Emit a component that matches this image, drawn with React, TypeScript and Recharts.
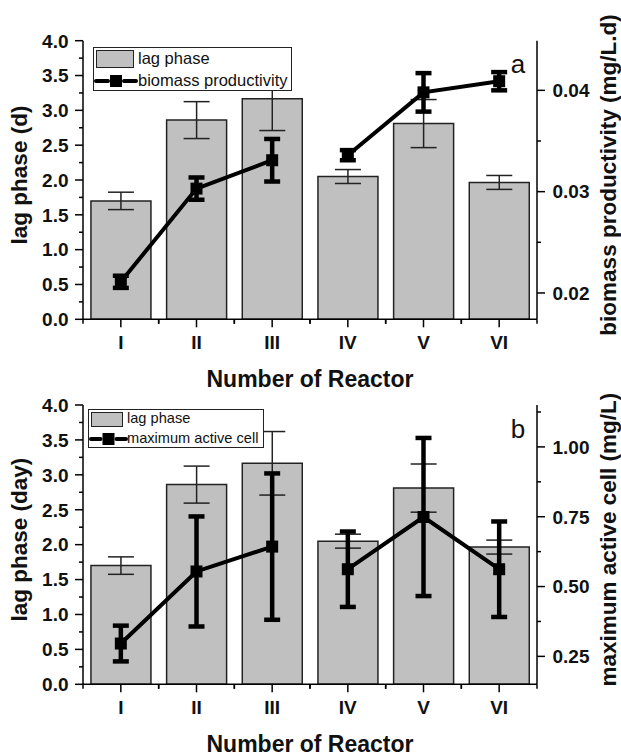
import React from "react";
import { ComposedChart, Bar, Line, XAxis, YAxis, ErrorBar, Legend } from "recharts";

const FONT = "'Liberation Sans', Arial, Helvetica, sans-serif";

// categories
const reactors = ["I", "II", "III", "IV", "V", "VI"];

// left axis: lag phase (same in both panels)
const lagPhase = [1.7, 2.86, 3.165, 2.05, 2.81, 1.965];
const lagPhaseErr = [0.125, 0.265, 0.455, 0.1, 0.345, 0.1];

// panel a, right axis
const biomassProd = [0.0211, 0.0303, 0.0331, 0.0336, 0.0398, 0.0409];
const biomassProdErr = [0.0006, 0.0011, 0.0021, 0.0005, 0.0019, 0.0009];

// panel b, right axis
const maxActiveCell = [0.296, 0.554, 0.643, 0.562, 0.749, 0.562];
const maxActiveCellErr = [0.064, 0.197, 0.262, 0.135, 0.283, 0.171];

// the line is drawn in two pieces: I-III and IV-VI
const firstGroupSize = 3;

const lagTicks = [0, 0.25, 0.5, 0.75, 1, 1.25, 1.5, 1.75, 2, 2.25, 2.5, 2.75, 3, 3.25, 3.5, 3.75, 4];
const prodTicks = [0.02, 0.025, 0.03, 0.035, 0.04];
const cellTicks = [0.25, 0.375, 0.5, 0.625, 0.75, 0.875, 1, 1.125];

function buildData(vals: number[], errs: number[]) {
  return reactors.map((name, i) => {
    const first = i < firstGroupSize;
    return {
      name,
      lag: lagPhase[i],
      lagErr: lagPhaseErr[i],
      s1: first ? vals[i] : null,
      s1Err: first ? errs[i] : null,
      s2: first ? null : vals[i],
      s2Err: first ? null : errs[i],
    };
  });
}

const dataA = buildData(biomassProd, biomassProdErr);
const dataB = buildData(maxActiveCell, maxActiveCellErr);

function isMajor(v: number, step: number) {
  const r = v / step;
  return Math.abs(r - Math.round(r)) < 1e-6;
}

const YTick = (props: any) => {
  const { x, y, payload, side, step, digits } = props;
  const major = isMajor(payload.value, step);
  const dir = side === "left" ? -1 : 1;
  const len = major ? 8 : 4;
  return (
    <g>
      <line x1={x} y1={y} x2={x + dir * len} y2={y} stroke="#000" strokeWidth={1.5} />
      {major && (
        <text
          x={x + dir * (side === "left" ? 14.5 : 15.5)}
          y={y}
          dy="0.36em"
          textAnchor={side === "left" ? "end" : "start"}
          fontFamily={FONT}
          fontWeight="bold"
          fontSize={19}
          fill="#111"
        >
          {payload.value.toFixed(digits)}
        </text>
      )}
    </g>
  );
};

const XTick = (props: any) => {
  const { x, y, payload, top } = props;
  const half = payload.offset || 0;
  const majorLen = top ? 7 : 8;
  const minorLen = top ? 5 : 4.5;
  return (
    <g>
      <line x1={x} y1={y} x2={x} y2={y + majorLen} stroke="#000" strokeWidth={1.5} />
      <line x1={x - half} y1={y} x2={x - half} y2={y + minorLen} stroke="#000" strokeWidth={1.5} />
      <line x1={x + half} y1={y} x2={x + half} y2={y + minorLen} stroke="#000" strokeWidth={1.5} />
      {!top && (
        <text x={x} y={y + 22.4} dy="0.36em" textAnchor="middle" fontFamily={FONT} fontWeight="bold" fontSize={19} fill="#111">
          {payload.value}
        </text>
      )}
    </g>
  );
};

const VTitle = (props: any) => {
  const { viewBox, text, dx } = props;
  const x = viewBox.x + dx;
  const y = viewBox.y + viewBox.height / 2 - 5;
  return (
    <text x={x} y={y} transform={`rotate(-90 ${x} ${y})`} dy="0.36em" textAnchor="middle" fontFamily={FONT} fontWeight="bold" fontSize={22.5} fill="#111">
      {text}
    </text>
  );
};

const XTitle = (props: any) => {
  const { viewBox } = props;
  return (
    <text x={viewBox.x + viewBox.width / 2} y={viewBox.y + 67.5} textAnchor="middle" fontFamily={FONT} fontWeight="bold" fontSize={23} fill="#111">
      Number of Reactor
    </text>
  );
};

const SquareDot = (props: any) => {
  const { cx, cy, index } = props;
  if (cx == null || cy == null) return <g key={index} />;
  return <rect key={index} x={cx - 6} y={cy - 6} width={12} height={12} fill="#000" />;
};

type LegendSpec = {
  left: number;
  top: number;
  width: number;
  height: number;
  fontSize: number;
  swatchW: number;
  swatchH: number;
  row2: number;
  symW: number;
  label: string;
};

const LegendBox = ({ spec }: { spec: LegendSpec }) => (
  <div
    style={{
      position: "relative",
      boxSizing: "border-box",
      width: spec.width,
      height: spec.height,
      border: "1px solid #222",
      background: "#fff",
      fontFamily: FONT,
      fontSize: spec.fontSize,
      color: "#111",
      lineHeight: 1,
    }}
  >
    <div
      style={{
        position: "absolute",
        left: 1.5,
        top: 2,
        width: spec.swatchW,
        height: spec.swatchH,
        boxSizing: "border-box",
        background: "#c0c0c0",
        border: "1.5px solid #222",
      }}
    />
    <div style={{ position: "absolute", left: spec.swatchW + 6, top: 2 + spec.swatchH / 2 - spec.fontSize * 0.55, whiteSpace: "nowrap" }}>
      lag phase
    </div>
    <svg style={{ position: "absolute", left: 0, top: spec.row2 - 8 }} width={spec.symW + 2} height={16}>
      <line x1={2} y1={8} x2={spec.symW / 2 - 7} y2={8} stroke="#000" strokeWidth={4} strokeLinecap="round" />
      <rect x={spec.symW / 2 - 5} y={2} width={12} height={12} fill="#000" />
      <line x1={spec.symW / 2 + 9} y1={8} x2={spec.symW} y2={8} stroke="#000" strokeWidth={4} strokeLinecap="round" />
    </svg>
    <div style={{ position: "absolute", left: spec.swatchW + 6, top: spec.row2 - spec.fontSize * 0.55, whiteSpace: "nowrap" }}>
      {spec.label}
    </div>
  </div>
);

type PanelProps = {
  data: any[];
  height: number;
  marginTop: number;
  xAxisHeight: number;
  leftTitle: string;
  rightTitle: string;
  rightDomain: [number, number];
  rightTicks: number[];
  rightStep: number;
  legend: LegendSpec;
  letter: string;
  letterTop: number;
};

function Panel(p: PanelProps) {
  return (
    <div style={{ position: "relative", width: 621, height: p.height }}>
      <ComposedChart
        width={621}
        height={p.height}
        data={p.data}
        margin={{ top: p.marginTop, right: 0, left: 0, bottom: 0 }}
        barCategoryGap="10.5%"
      >
        <XAxis
          dataKey="name"
          xAxisId={0}
          height={p.xAxisHeight}
          interval={0}
          tickSize={0}
          tickMargin={0}
          tickLine={false}
          axisLine={{ stroke: "#000", strokeWidth: 1.5 }}
          tick={<XTick />}
          label={<XTitle />}
        />
        <XAxis
          dataKey="name"
          xAxisId="top"
          orientation="top"
          height={0}
          interval={0}
          tickSize={0}
          tickMargin={0}
          tickLine={false}
          axisLine={{ stroke: "#000", strokeWidth: 1.5 }}
          tick={<XTick top />}
        />
        <YAxis
          yAxisId="left"
          width={83}
          domain={[0, 4]}
          ticks={lagTicks}
          interval={0}
          allowDataOverflow
          tickSize={0}
          tickMargin={0}
          tickLine={false}
          axisLine={{ stroke: "#000", strokeWidth: 1.5 }}
          tick={<YTick side="left" step={0.5} digits={1} />}
          label={<VTitle text={p.leftTitle} dx={19} />}
        />
        <YAxis
          yAxisId="right"
          orientation="right"
          width={84}
          domain={p.rightDomain}
          ticks={p.rightTicks}
          interval={0}
          allowDataOverflow
          tickSize={0}
          tickMargin={0}
          tickLine={false}
          axisLine={{ stroke: "#000", strokeWidth: 1.5 }}
          tick={<YTick side="right" step={p.rightStep} digits={2} />}
          label={<VTitle text={p.rightTitle} dx={71} />}
        />
        <Bar dataKey="lag" yAxisId="left" fill="#c0c0c0" stroke="#222" strokeWidth={1.5} isAnimationActive={false}>
          <ErrorBar dataKey="lagErr" width={13} stroke="#222" strokeWidth={1.5} />
        </Bar>
        {["s1", "s2"].map((k) => (
          <Line
            key={k}
            dataKey={k}
            yAxisId="right"
            stroke="#000"
            strokeWidth={4}
            dot={SquareDot}
            activeDot={false}
            isAnimationActive={false}
          >
            <ErrorBar dataKey={k + "Err"} width={8} stroke="#000" strokeWidth={4.5} />
          </Line>
        ))}
        <Legend
          layout="vertical"
          align="center"
          verticalAlign="middle"
          wrapperStyle={{ left: p.legend.left, top: p.legend.top, width: p.legend.width, height: p.legend.height }}
          content={() => <LegendBox spec={p.legend} />}
        />
      </ComposedChart>
      <div
        style={{
          position: "absolute",
          left: 518,
          top: p.letterTop,
          transform: "translateX(-50%)",
          fontFamily: FONT,
          fontSize: 26,
          lineHeight: 1,
          color: "#111",
        }}
      >
        {p.letter}
      </div>
    </div>
  );
}

export default function App() {
  return (
    <div style={{ position: "absolute", left: 0, top: 0, width: 621, height: 756, background: "#fff" }}>
      <Panel
        data={dataA}
        height={392}
        marginTop={40.7}
        xAxisHeight={72.7}
        leftTitle="lag phase (d)"
        rightTitle="biomass productivity (mg/L.d)"
        rightDomain={[0.0174, 0.0449]}
        rightTicks={prodTicks}
        rightStep={0.01}
        legend={{ left: 93, top: 47, width: 199, height: 44, fontSize: 16.5, swatchW: 38, swatchH: 18, row2: 33, symW: 42, label: "biomass productivity" }}
        letter="a"
        letterTop={51}
      />
      <Panel
        data={dataB}
        height={364}
        marginTop={13}
        xAxisHeight={71.7}
        leftTitle="lag phase (day)"
        rightTitle="maximum active cell (mg/L)"
        rightDomain={[0.15, 1.15]}
        rightTicks={cellTicks}
        rightStep={0.25}
        legend={{ left: 88, top: 17, width: 176, height: 39, fontSize: 14.6, swatchW: 32, swatchH: 15, row2: 29, symW: 37, label: "maximum active cell" }}
        letter="b"
        letterTop={24}
      />
    </div>
  );
}
